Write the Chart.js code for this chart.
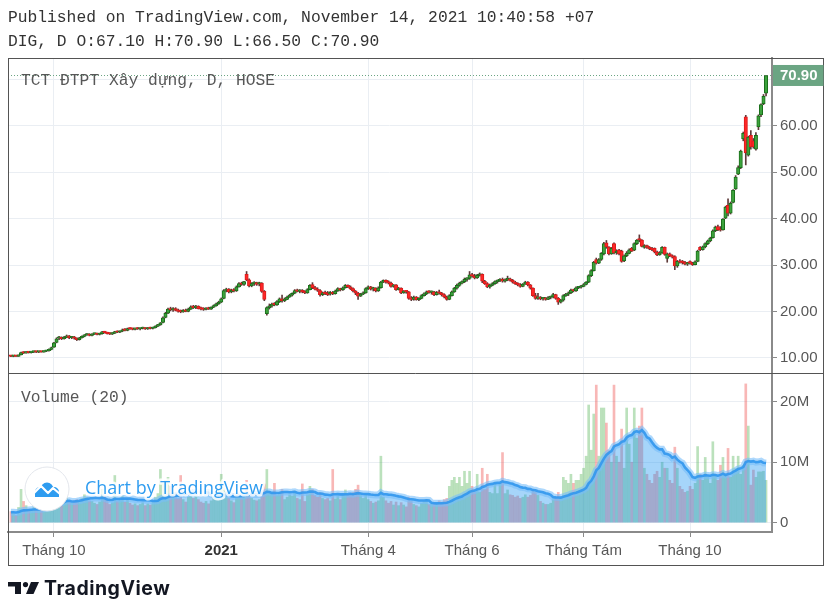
<!DOCTYPE html>
<html><head><meta charset="utf-8">
<script src="https://cdn.jsdelivr.net/npm/chart.js@4/dist/chart.umd.min.js"></script>
<style>
html,body{margin:0;padding:0;background:#fff;width:832px;height:614px;overflow:hidden}
#wrap{position:relative;width:832px;height:614px}
#c{position:absolute;left:0;top:0}
.hdr{position:absolute;left:8px;font:16.3px "Liberation Mono",monospace;color:#333;white-space:pre;line-height:20px}
#logo{position:absolute;left:8px;top:578px;height:20px;display:flex;align-items:center;gap:5px}
#logo span{font:bold 19.5px Inter,Roboto,sans-serif;color:#131722;letter-spacing:0.5px}
</style></head>
<body><div id="wrap">
<canvas id="c" width="832" height="614"></canvas>
<div class="hdr" style="top:8px">Published on TradingView.com, November 14, 2021 10:40:58 +07</div>
<div class="hdr" style="top:32px">DIG, D O:67.10 H:70.90 L:66.50 C:70.90</div>
<div id="logo"><svg width="31" height="12" viewBox="0 0 31 12"><path d="M0 0h13v12H7V4.5H0z" fill="#131722"/><circle cx="17.5" cy="2.6" r="2.6" fill="#131722"/><path d="M23 0h8l-5.5 12h-7.5z" fill="#131722"/></svg><span>TradingView</span></div>
</div>
<script>
// ---- DATA (DIG daily, 8 Sep 2020 .. 12 Nov 2021) ----
const opens = [
10.4,10.3,10.4,10.3,10.6,11.1,11.0,11.2,11.1,11.2,11.3,11.2,11.3,11.2,11.4,11.5,11.8,
12.3,13.3,14.2,14.4,14.1,14.4,14.7,14.3,14.5,14.2,13.9,14.3,14.6,14.9,15.1,14.8,15.1,15.2,15.0,15.2,15.6,15.4,
15.2,15.1,15.3,15.6,15.5,15.7,16.0,15.9,16.3,16.2,16.1,16.3,16.2,16.3,16.4,16.2,16.4,16.3,16.5,16.8,17.1,
17.6,18.7,19.6,20.6,20.3,20.6,20.2,20.0,19.9,20.2,20.0,20.5,21.0,20.8,21.1,20.6,20.5,20.4,20.7,20.5,20.9,21.2,21.6,
22.0,22.8,24.5,24.8,24.2,24.6,24.4,25.3,26.0,25.8,28.0,26.8,25.5,26.0,26.2,25.9,26.1,24.3,19.5,20.8,
21.2,21.5,21.4,22.1,22.7,22.3,22.6,23.1,23.5,23.9,24.5,24.3,24.5,24.2,24.0,
24.7,25.8,25.1,24.8,24.5,23.6,24.1,23.8,23.7,24.1,23.8,24.4,24.9,24.6,25.1,25.6,25.3,24.9,24.4,23.9,23.3,23.7,24.0,
24.9,25.3,24.8,25.0,24.4,25.1,26.3,26.7,26.3,26.1,25.4,25.7,24.7,25.0,24.0,24.4,24.2,22.8,22.6,23.1,22.5,
22.8,23.4,23.8,24.2,24.1,24.2,23.6,24.1,23.9,23.6,23.1,22.6,23.4,24.2,25.0,25.6,26.1,26.4,26.9,27.1,
27.9,27.6,27.2,27.8,28.0,26.5,26.0,25.3,25.6,26.0,26.4,26.6,26.9,26.5,26.8,27.0,26.7,26.3,26.0,25.7,25.4,25.9,
26.3,25.7,25.0,23.4,22.8,23.0,22.7,22.8,22.6,23.0,23.1,23.6,22.8,22.0,22.4,23.4,23.7,24.0,24.6,24.4,25.1,25.2,
25.4,25.8,26.3,27.7,28.8,31.2,30.4,31.2,32.4,34.8,33.8,32.4,34.6,32.6,33.2,33.0,30.9,32.0,32.5,33.6,33.2,34.6,
35.6,35.4,33.8,34.2,33.8,33.5,33.6,32.8,32.2,32.6,33.8,31.4,32.4,32.0,31.8,29.8,30.8,30.6,30.6,30.2,
30.6,30.4,30.1,30.8,33.8,33.3,33.9,34.6,35.2,35.9,37.4,38.3,37.8,37.6,40.1,42.9,41.2,43.5,46.4,49.6,51.0,
57.2,62.0,53.7,58.0,56.8,55.0,59.8,62.4,64.8,67.1];
const highs = [
10.5,10.5,10.5,10.6,11.2,11.3,11.3,11.3,11.3,11.4,11.4,11.4,11.4,11.5,11.6,11.9,12.3,
13.3,14.3,14.6,14.5,14.6,14.9,14.8,14.6,14.6,14.3,14.4,14.7,15.0,15.2,15.2,15.2,15.3,15.3,15.3,15.7,15.7,15.5,
15.4,15.4,15.7,15.8,15.8,16.2,16.3,16.4,16.5,16.4,16.4,16.5,16.4,16.6,16.5,16.5,16.6,16.6,16.9,17.2,17.6,
18.8,19.8,20.7,20.9,20.8,20.8,20.5,20.3,20.4,20.5,20.7,21.2,21.3,21.3,21.2,20.9,20.8,20.8,20.9,21.0,21.4,21.8,22.2,
22.9,24.7,25.0,24.9,24.8,24.9,25.5,26.2,26.3,26.5,28.6,27.0,26.2,26.4,26.3,26.3,26.2,24.5,21.0,21.6,
21.8,21.9,22.3,22.9,23.5,22.9,23.3,23.7,24.0,24.7,24.8,24.7,24.7,24.5,24.9,
25.8,26.2,25.4,25.1,24.7,24.2,24.4,24.3,24.3,24.3,24.6,25.1,25.0,25.3,25.8,25.7,25.5,25.1,24.5,24.1,23.9,24.2,25.1,
25.5,25.4,25.2,25.1,25.3,26.5,26.8,26.8,26.6,26.3,25.8,25.8,25.2,25.1,24.5,24.5,24.3,23.2,23.3,23.2,23.0,
23.6,24.0,24.4,24.5,24.4,24.3,24.3,24.6,24.1,23.8,23.3,23.6,24.4,25.2,25.9,26.3,26.6,27.2,27.3,28.6,
28.2,28.0,28.0,28.3,28.1,26.7,26.2,25.9,26.2,26.6,26.8,27.1,27.2,27.0,27.6,27.2,26.9,26.5,26.2,26.0,26.0,26.5,
26.4,25.8,25.1,23.9,23.9,23.2,23.0,23.0,23.2,23.3,23.9,23.7,23.0,22.6,23.6,23.9,24.2,24.8,24.8,25.3,25.4,25.6,
26.0,26.4,27.9,29.0,30.8,31.5,31.4,32.7,34.9,35.3,34.0,33.8,34.8,33.3,33.4,33.2,32.2,32.9,33.5,33.8,34.8,35.5,
36.5,35.5,34.4,34.3,34.0,33.8,33.7,33.0,32.9,34.0,33.9,32.6,32.6,32.2,32.0,31.0,31.2,31.0,30.8,30.6,
30.9,30.6,30.9,33.2,34.0,34.1,34.8,35.4,36.0,37.6,38.4,38.6,38.3,40.0,42.7,44.3,43.6,46.3,49.3,51.4,54.8,
58.7,62.3,57.8,59.0,57.3,58.6,62.4,64.8,66.8,70.9];
const lows = [
10.2,10.2,10.3,10.3,10.6,10.9,11.0,11.0,11.0,11.1,11.1,11.1,11.2,11.2,11.3,11.4,11.7,
12.2,13.2,13.9,13.9,14.0,14.3,14.1,14.1,14.0,13.7,13.8,14.2,14.5,14.8,14.7,14.7,15.0,14.9,14.9,15.1,15.3,15.1,
15.0,15.0,15.2,15.4,15.4,15.6,15.8,15.8,16.1,16.0,16.0,16.1,16.0,16.2,16.1,16.1,16.2,16.2,16.4,16.7,17.0,
17.5,18.6,19.5,20.1,20.0,20.1,19.8,19.7,19.8,19.9,19.9,20.4,20.6,20.6,20.5,20.3,20.2,20.3,20.4,20.4,20.8,21.1,21.5,
21.9,22.7,24.2,24.0,24.0,24.2,24.3,25.2,25.6,25.6,26.6,25.3,25.3,25.6,25.6,25.5,24.1,22.3,19.2,20.5,
20.9,21.2,21.3,21.9,22.0,22.1,22.5,23.0,23.3,23.8,24.2,24.0,24.0,23.8,23.9,
24.6,24.9,24.6,24.3,23.3,23.4,23.6,23.4,23.5,23.6,23.7,24.3,24.4,24.5,25.0,25.1,24.7,24.2,23.6,22.6,23.2,23.6,23.9,
24.7,24.6,24.4,24.2,24.3,25.0,26.2,26.1,25.9,25.2,25.2,24.5,24.6,23.8,23.9,23.9,22.6,22.3,22.4,22.4,22.3,
22.7,23.3,23.6,23.9,23.7,23.4,23.5,23.7,23.3,22.9,22.4,22.5,23.3,24.1,24.8,25.4,25.9,26.2,26.5,26.9,
27.4,27.0,27.1,27.6,26.2,25.8,25.1,25.0,25.5,25.8,26.1,26.4,26.3,26.3,26.6,26.5,26.1,25.8,25.5,25.2,25.3,25.8,
25.5,24.8,23.2,22.6,22.6,22.5,22.4,22.4,22.5,22.7,22.9,22.6,21.5,21.8,22.2,23.2,23.4,23.8,24.2,24.3,24.9,25.0,
25.3,25.7,26.2,27.5,28.7,30.2,30.3,31.0,32.2,33.6,32.2,32.3,32.4,32.3,32.2,30.6,30.7,31.8,32.4,32.9,33.1,34.4,
35.0,33.9,33.6,33.6,33.3,33.1,32.6,32.0,32.1,32.5,32.1,30.6,31.8,31.5,29.0,29.5,30.4,30.2,30.0,29.9,
30.2,29.9,30.0,30.7,33.1,33.2,33.7,34.4,35.0,35.8,37.2,37.4,37.3,37.5,40.0,40.6,41.0,43.4,46.3,49.5,50.8,
56.8,51.6,53.5,55.0,55.2,54.8,59.2,62.0,64.6,66.5];
const closes = [
10.3,10.4,10.3,10.5,11.1,11.0,11.2,11.1,11.2,11.3,11.2,11.3,11.2,11.4,11.5,11.8,12.2,
13.2,14.1,14.3,14.1,14.4,14.6,14.3,14.5,14.2,13.9,14.3,14.6,14.9,15.0,14.8,15.1,15.2,15.0,15.2,15.6,15.4,15.2,
15.1,15.3,15.6,15.5,15.7,16.0,15.9,16.3,16.2,16.1,16.3,16.2,16.3,16.4,16.2,16.4,16.3,16.5,16.8,17.1,17.5,
18.6,19.6,20.5,20.3,20.6,20.2,20.0,19.9,20.2,20.0,20.5,21.0,20.8,21.1,20.6,20.5,20.4,20.7,20.5,20.9,21.2,21.6,22.0,
22.7,24.5,24.8,24.2,24.6,24.4,25.3,26.0,25.8,26.4,26.8,25.5,26.0,26.2,25.8,26.1,24.3,22.6,20.8,21.2,
21.5,21.4,22.1,22.7,22.3,22.6,23.1,23.5,23.9,24.5,24.3,24.5,24.2,24.0,24.7,
25.6,25.1,24.8,24.5,23.6,24.0,23.8,23.6,24.1,23.8,24.4,24.9,24.6,25.1,25.6,25.3,24.9,24.4,23.9,23.3,23.7,24.0,24.9,
25.3,24.8,25.0,24.4,25.1,26.3,26.7,26.3,26.1,25.4,25.7,24.7,25.0,24.0,24.4,24.2,22.8,22.6,23.1,22.5,22.8,
23.4,23.8,24.2,24.1,24.3,23.6,24.1,23.9,23.6,23.1,22.6,23.4,24.2,25.0,25.6,26.1,26.4,26.9,27.1,27.9,
27.6,27.2,27.8,28.0,26.5,26.0,25.3,25.6,26.0,26.4,26.6,26.9,26.5,26.8,27.0,26.7,26.3,26.0,25.7,25.4,25.9,26.3,
25.7,25.0,23.4,22.8,23.0,22.7,22.8,22.6,23.0,23.1,23.6,22.8,22.0,22.4,23.4,23.7,24.0,24.6,24.4,25.1,25.2,25.4,
25.8,26.3,27.7,28.8,30.6,30.4,31.2,32.5,34.6,33.9,32.4,33.6,32.6,33.0,32.4,30.8,32.0,32.6,33.3,33.0,34.6,35.4,
35.4,34.0,34.2,33.8,33.5,33.3,32.8,32.2,32.6,33.8,32.3,32.4,32.0,31.7,29.8,30.8,30.6,30.5,30.2,30.4,
30.4,30.1,30.7,33.0,33.3,33.9,34.6,35.2,35.8,37.4,38.2,37.6,37.5,39.9,42.5,41.2,43.3,46.1,49.0,51.0,54.6,
58.4,54.2,57.6,55.5,55.5,58.0,62.2,64.6,66.4,70.9];
// volume in millions of shares
const volumes = [
1.8,1.5,1.2,2.5,5.5,3.5,2.8,2.2,2.0,2.6,2.4,2.1,1.9,2.8,3.0,3.8,4.5,
6.0,7.5,4.5,3.8,3.5,4.2,3.5,3.2,3.6,3.8,3.4,4.0,4.6,4.2,3.6,3.5,3.2,3.0,3.4,5.5,4.3,3.8,
3.0,3.3,7.8,3.5,3.6,4.4,3.4,3.8,3.2,2.9,3.1,2.8,3.0,3.3,2.8,3.1,2.9,3.4,4.2,4.8,8.8,
6.5,7.0,7.5,6.0,5.0,4.6,4.0,7.8,3.8,3.4,4.2,5.0,4.0,4.3,3.8,3.4,3.2,3.5,3.1,3.6,4.4,4.8,5.5,
8.0,6.5,5.0,4.0,3.6,3.3,4.3,5.0,4.0,4.6,7.0,5.2,4.0,3.7,3.6,3.8,5.2,6.4,8.8,5.2,
5.0,6.5,4.5,5.0,5.5,3.8,4.2,4.6,4.4,5.2,4.0,3.8,6.4,3.5,4.6,
6.0,5.5,4.5,4.2,5.0,4.0,3.8,4.0,3.6,8.8,3.9,4.4,3.8,4.5,5.4,4.6,4.8,5.0,5.5,6.2,4.5,4.0,4.6,
3.8,3.5,3.2,3.4,3.6,11.0,4.2,3.6,3.2,3.5,2.9,3.4,2.8,3.3,2.9,2.6,4.2,3.5,3.0,2.8,2.6,
3.2,3.5,3.8,3.0,3.1,3.2,3.0,3.6,3.4,3.8,4.0,6.0,7.0,7.5,6.5,7.5,6.0,8.5,6.5,8.5,
6.0,5.0,8.0,5.0,9.0,5.5,8.0,5.0,4.8,6.5,4.8,6.5,11.6,4.8,5.4,4.6,4.5,4.2,4.4,4.0,4.2,4.6,
4.2,4.5,5.5,5.0,4.5,3.5,3.2,3.0,3.0,3.2,3.8,4.2,5.0,4.0,7.5,7.0,6.5,8.0,6.5,7.0,7.0,8.0,
9.0,11.0,19.5,12.0,18.0,22.8,11.0,19.0,19.0,16.5,12.0,10.0,22.8,11.0,10.0,15.5,9.0,19.0,13.0,10.0,19.0,14.0,
16.0,19.0,9.0,8.0,7.0,6.5,8.0,8.5,7.5,10.0,9.0,9.0,7.0,6.5,12.5,9.0,6.0,5.5,5.0,5.2,
6.0,5.5,6.5,12.6,8.0,7.0,10.8,7.5,6.5,13.4,8.0,7.0,9.5,10.8,8.0,12.3,7.5,11.0,9.0,11.0,8.0,
9.5,23.0,16.0,6.2,8.7,7.5,8.4,8.4,8.5,7.0];
// the 19 sessions before the visible range (needed for the 20-day volume average)
const volBefore = [1.5,2.0,1.2,1.8,1.4,2.2,1.6,1.3,1.9,1.7,2.4,1.5,1.1,1.8,2.0,1.6,1.4,2.1,1.7];
const tickIdx = [17, 83, 141, 182, 226, 268];
const tickLabels = ['Tháng 10', '2021', 'Tháng 4', 'Tháng 6', 'Tháng Tám', 'Tháng 10'];
const priceTicks = [10, 20, 30, 40, 50, 60, 70];
const volTicks = [0, 10, 20];

// ---- derived ----
const N = closes.length;
const idx = Array.from({length: N}, (_, i) => i);
const isUp = i => closes[i] >= opens[i];
const allVol = volBefore.concat(volumes);
const ma20 = idx.map(i => { let s = 0; for (let k = i; k < i + 20; k++) s += allVol[k]; return s / 20; });

// ---- style ----
const UP_FILL = '#3ca33c', UP_LINE = '#1b6e1b';
const DN_FILL = '#ff2626', DN_LINE = '#d81c1c';
const WICK = '#5e3a3a';
const VOL_UP = 'rgba(76,175,80,0.38)', VOL_DN = 'rgba(239,83,80,0.42)';
const GRID = '#eaeef3', AXIS = '#8a8a8a', FRAME = '#545454', TXT = '#575757';
const LAST = '#6ba583';
const SANS = '"Liberation Sans", Arial, sans-serif';
const MONO = '"Liberation Mono", monospace';

const deco = {
  id: 'deco',
  beforeDatasetsDraw(chart) {
    const {ctx, chartArea: a, scales: {y}} = chart;
    const py = Math.round(y.getPixelForValue(closes[N - 1])) + 0.5;
    ctx.save();
    ctx.strokeStyle = LAST; ctx.lineWidth = 1; ctx.setLineDash([1, 2]);
    ctx.beginPath(); ctx.moveTo(a.left, py); ctx.lineTo(a.right, py); ctx.stroke();
    ctx.restore();
  },
  afterDatasetsDraw(chart) {
    const {ctx, chartArea: a, scales: {y, v}} = chart;
    ctx.save();
    ctx.font = '16.3px ' + MONO; ctx.fillStyle = TXT; ctx.textBaseline = 'middle';
    ctx.fillText('TCT ĐTPT Xây dựng, D, HOSE', a.left + 13, y.top + 23);
    ctx.fillText('Volume (20)', a.left + 13, v.top + 25);
    // watermark
    const cx = a.left + 39, cy = v.bottom - 43;
    ctx.beginPath(); ctx.arc(cx, cy, 22, 0, Math.PI * 2);
    ctx.fillStyle = '#fff'; ctx.fill(); ctx.strokeStyle = '#e3e6ec'; ctx.lineWidth = 1; ctx.stroke();
    ctx.fillStyle = '#2e9cf0';
    ctx.beginPath();
    ctx.arc(cx - 7, cy + 3, 5, 0, Math.PI * 2);
    ctx.arc(cx, cy, 6.5, 0, Math.PI * 2);
    ctx.arc(cx + 7, cy + 3, 5, 0, Math.PI * 2);
    ctx.fill();
    ctx.fillRect(cx - 12, cy + 3, 24, 5);
    ctx.strokeStyle = '#fff'; ctx.lineWidth = 2.2; ctx.lineJoin = 'round';
    ctx.beginPath(); ctx.moveTo(cx - 13, cy + 4); ctx.lineTo(cx - 6, cy - 3); ctx.lineTo(cx + 1, cy + 4);
    ctx.lineTo(cx + 6, cy - 1); ctx.lineTo(cx + 13, cy + 5); ctx.stroke();
    const t = 'Chart by TradingView';
    let fs = 19; ctx.font = fs + 'px "Open Sans", sans-serif';
    fs = fs * 178 / ctx.measureText(t).width; ctx.font = fs.toFixed(2) + 'px "Open Sans", sans-serif';
    ctx.lineWidth = 5; ctx.strokeStyle = 'rgba(255,255,255,0.85)';
    ctx.strokeText(t, cx + 38, cy);
    ctx.fillStyle = '#2e9cf0'; ctx.fillText(t, cx + 38, cy);
    ctx.restore();
  },
  afterDraw(chart) {
    const {ctx, chartArea: a, scales: {y, v}} = chart;
    ctx.save();
    ctx.strokeStyle = FRAME; ctx.lineWidth = 1;
    const R = chart.width - 8.5;
    ctx.strokeRect(a.left + 0.5, a.top + 0.5, R - a.left - 0.5, 507);
    ctx.beginPath(); ctx.moveTo(a.left, v.top + 0.5); ctx.lineTo(R, v.top + 0.5); ctx.stroke();
    // last price label
    const py = y.getPixelForValue(closes[N - 1]);
    ctx.fillStyle = LAST; ctx.fillRect(a.right + 1, py - 10.5, R - a.right - 1, 21);
    ctx.fillStyle = '#fff'; ctx.font = 'bold 15px ' + SANS; ctx.textBaseline = 'middle'; ctx.textAlign = 'center';
    ctx.fillText(closes[N - 1].toFixed(2), (a.right + R) / 2 + 1, py + 0.5);
    ctx.restore();
  }
};

const tickFont = c => ({family: SANS, size: 15, weight: (c.tick && c.tick.label === '2021') ? 'bold' : 'normal'});

new Chart(document.getElementById('c'), {
  type: 'bar',
  data: {
    datasets: [
      {label: 'wick', data: idx.map(i => ({x: i, y: [lows[i], highs[i]]})), yAxisID: 'y',
       backgroundColor: WICK, barThickness: 1, grouped: false, order: 1},
      {label: 'body', data: idx.map(i => ({x: i, y: [opens[i], closes[i]]})), yAxisID: 'y',
       backgroundColor: c => isUp(c.dataIndex) ? UP_FILL : DN_FILL,
       borderColor: c => isUp(c.dataIndex) ? UP_LINE : DN_LINE,
       borderWidth: 1, borderSkipped: false, barThickness: 3.4, minBarLength: 1.5, grouped: false, order: 0},
      {label: 'volume', data: idx.map(i => ({x: i, y: volumes[i]})), yAxisID: 'v',
       backgroundColor: c => isUp(c.dataIndex) ? VOL_UP : VOL_DN, barThickness: 2, grouped: false, order: 4},
      {type: 'line', label: 'ma-glow', data: idx.map(i => ({x: i, y: ma20[i]})), yAxisID: 'v',
       borderColor: 'rgba(120,190,250,0.6)', borderWidth: 7, pointRadius: 0, tension: 0,
       fill: 'origin', backgroundColor: 'rgba(33,150,243,0.4)', order: 3},
      {type: 'line', label: 'ma', data: idx.map(i => ({x: i, y: ma20[i]})), yAxisID: 'v',
       borderColor: 'rgba(52,152,238,0.92)', borderWidth: 2.6, pointRadius: 0, tension: 0, fill: false, order: 2}
    ]
  },
  options: {
    responsive: false, animation: false, events: [],
    layout: {padding: {left: 8, top: 58, right: 9, bottom: 49}},
    plugins: {legend: {display: false}, tooltip: {enabled: false}},
    scales: {
      x: {type: 'linear', min: -1.15, max: 300.35, offset: false,
          afterBuildTicks: ax => { ax.ticks = tickIdx.map(t => ({value: t})); },
          afterFit: ax => { ax.height = 33; },
          ticks: {autoSkip: false, maxRotation: 0, padding: 5,
                  callback: val => tickLabels[tickIdx.indexOf(val)],
                  font: tickFont, color: c => (c.tick && c.tick.label === '2021') ? '#333' : TXT},
          grid: {offset: false, color: GRID, tickColor: AXIS, tickLength: 5},
          border: {color: AXIS, width: 2}},
      y: {position: 'right', stack: 'pane', stackWeight: 315, min: 6.70, max: 74.67,
          afterBuildTicks: ax => { ax.ticks = priceTicks.map(t => ({value: t})); },
          afterFit: ax => { ax.width = 51; },
          ticks: {padding: 3, color: TXT, font: {family: SANS, size: 15},
                  callback: val => val === 70 ? '' : val.toFixed(2)},
          grid: {color: GRID, tickColor: AXIS, tickLength: 5},
          border: {color: AXIS, width: 2}},
      v: {position: 'right', stack: 'pane', stackWeight: 159, min: -1.577, max: 24.81,
          afterBuildTicks: ax => { ax.ticks = volTicks.map(t => ({value: t})); },
          afterFit: ax => { ax.width = 51; },
          ticks: {padding: 3, color: TXT, font: {family: SANS, size: 15},
                  callback: val => val === 0 ? '0' : val + 'M'},
          grid: {color: GRID, tickColor: AXIS, tickLength: 5},
          border: {color: AXIS, width: 2}}
    }
  },
  plugins: [deco]
});
</script>
</body></html>
